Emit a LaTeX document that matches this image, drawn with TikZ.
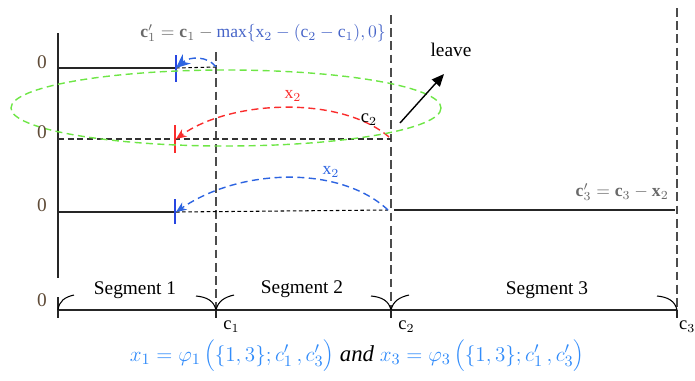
\documentclass[tikz,border=0pt]{standalone}
\usepackage{fontspec}
\setmainfont{Liberation Serif}
\usepackage{tikz}
\usetikzlibrary{calc,arrows.meta,positioning}
\definecolor{zero_brown}{RGB}{95,75,55}
\definecolor{tick_blue}{RGB}{40,70,225}
\definecolor{arc_blue}{RGB}{45,100,225}
\definecolor{arc_red}{RGB}{250,45,45}
\definecolor{ring_green}{RGB}{110,230,70}
\definecolor{eq_blue}{RGB}{50,140,250}
\definecolor{max_blue}{RGB}{70,100,200}
\definecolor{eq_gray}{RGB}{105,105,105}
\tikzset{
axis_line/.style={line width=0.6pt, black!85},
guide_line/.style={line width=0.7pt, black!70, dash pattern=on 5pt off 2.5pt},
level_dots/.style={line width=0.6pt, black, dash pattern=on 2pt off 1.5pt},
hop_arc/.style={line width=0.8pt, dash pattern=on 4pt off 2.5pt, -{Stealth[length=6pt,width=5pt]}},
cut_tick/.style={line width=0.8pt},
zero_label/.style={text=zero_brown, inner sep=0, font=\fontsize{11}{12}\selectfont},
seg_label/.style={inner sep=0, font=\fontsize{11}{12}\selectfont},
c_label/.style={inner sep=0, font=\fontsize{10.5}{12}\selectfont},
brace_end/.style={line width=0.6pt}
}

\begin{document}
\begin{tikzpicture}[x=0.02cm, y=-0.02cm]
    \useasboundingbox (0,0) rectangle (695,380);
    % points on the bottom axis
    \coordinate (o)  at (58,310);
    \coordinate (c1) at (216,310);
    \coordinate (c2) at (391,310);
    \coordinate (c3) at (677,310);
    \coordinate (axis_top) at (58,33);
    \coordinate (axis_end) at (58,278);

    % left axis and the segment axis
    \draw[axis_line] (axis_top) -- (axis_end);
    \draw[axis_line] (o) -- (c3);
    \draw[axis_line] (58,297) -- (58,318);
    \draw[guide_line] (216,52) -- (c1);
    \draw[guide_line] (391,15) -- (c2);
    \draw[guide_line] (677,8) -- (c3);
    \foreach \c in {c1,c2,c3}
        \draw[axis_line] (\c) -- ++(0,8);

    % brace ends
    \draw[brace_end] (o) .. controls (59,301) and (65,297) .. (74,295);
    \foreach \c in {c1,c2} {
        \draw[brace_end] (\c) .. controls ($(\c)+(-2,-9)$) and ($(\c)+(-9,-13)$) .. ($(\c)+(-20,-14)$);
        \draw[brace_end] (\c) .. controls ($(\c)+(2,-9)$) and ($(\c)+(9,-13)$) .. ($(\c)+(18,-15)$);
    }
    \draw[brace_end] (c3) .. controls ($(c3)+(-2,-9)$) and ($(c3)+(-9,-13)$) .. ($(c3)+(-20,-14)$);

    % row 1
    \coordinate (p1) at (176,68);
    \coordinate (q1) at (216,67);
    \draw[axis_line] (58,68) -- (p1);
    \draw[level_dots] (p1) -- (q1);
    \draw[cut_tick, tick_blue] (176,55) -- (176,82);
    \draw[hop_arc, arc_blue, -{Stealth[length=8pt,width=7pt]}] (q1) .. controls (208,56) and (190,56) .. (p1);

    % row 2
    \coordinate (p2) at (176,139);
    \coordinate (q2) at (389,137);
    \draw[line width=0.7pt, black!80, dash pattern=on 3.5pt off 2pt] (58,139) -- (391,139);
    \draw[cut_tick, arc_red] (175,125) -- (175,153);
    \draw[hop_arc, arc_red] (q2) .. controls (340,95) and (230,100) .. (p2);
    \node[text=arc_red, inner sep=0] (x2_red) at (293,96) {x$_2$};
    \node[c_label] (c2_mid) at (369,120) {c$_2$};

    % row 3
    \coordinate (p3) at (176,212);
    \coordinate (q3) at (388,210);
    \draw[axis_line] (58,212) -- (p3);
    \draw[level_dots] (p3) -- (q3);
    \draw[cut_tick, tick_blue] (175,199) -- (175,224);
    \draw[hop_arc, arc_blue] (q3) .. controls (340,165) and (240,168) .. (p3);
    \node[text=arc_blue, inner sep=0] (x2_blue) at (331,172) {x$_2$};
    \draw[axis_line] (394,210) -- (675,210);
    \node[text=eq_gray, inner sep=0, anchor=east] (c3_new) at (669,192)
        {$\mathbf{c}'_3=\mathbf{c}_3-\mathbf{x}_2$};

    % ring round the second row and the leave arrow
    \draw[ring_green, line width=0.8pt, dash pattern=on 4pt off 2.5pt] (226,108) ellipse [x radius=215, y radius=38];
    \coordinate (leave_from) at (400,123);
    \coordinate (leave_to) at (444,74);
    \draw[line width=0.8pt, -{Triangle[length=7pt,width=6pt]}] (leave_from) -- (leave_to);
    \node[seg_label] (leave) at (451,50) {leave};

    % top formula
    \node[inner sep=0] (c1_new) at (263,33)
        {\color{eq_gray}$\mathbf{c}'_1=\mathbf{c}_1-{}$\color{max_blue}$\mathrm{max}\{\mathrm{x}_2-(\mathrm{c}_2-\mathrm{c}_1),0\}$};

    % zero labels
    \node[zero_label] (z1) at (42,62) {0};
    \node[zero_label] (z2) at (42,132) {0};
    \node[zero_label] (z3) at (42,205) {0};
    \node[zero_label] (z4) at (42,300) {0};

    % segment names and cut points
    \node[seg_label] (seg1) at (135,290) {Segment 1};
    \node[seg_label] (seg2) at (302,289) {Segment 2};
    \node[seg_label] (seg3) at (547,290) {Segment 3};
    \node[c_label, below right=6pt and 4pt of c1] (c1_lab) {c$_1$};
    \node[c_label, below right=6pt and 4pt of c2] (c2_lab) {c$_2$};
    \node[c_label, below right=6pt and 1pt of c3] (c3_lab) {c$_3$};

    % bottom formula
    \node[inner sep=0, font=\fontsize{13}{15}\selectfont] (phi_eq) at (357,356)
        {\color{eq_blue}$x_1=\varphi_1\,\Bigl(\{1,3\};c'_1\,,c'_3\Bigr)$ \color{black}\textit{and} \color{eq_blue}$x_3=\varphi_3\,\Bigl(\{1,3\};c'_1\,,c'_3\Bigr)$};
\end{tikzpicture}
\end{document}
